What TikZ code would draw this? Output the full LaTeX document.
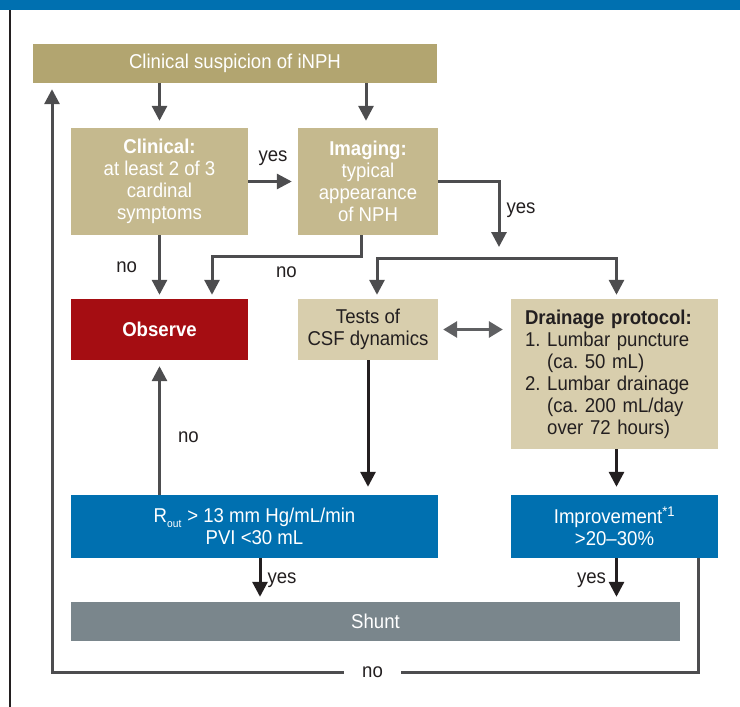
\documentclass[tikz,border=0pt]{standalone}
\usepackage{fontspec}
\setmainfont{Liberation Sans}[FakeStretch=0.93]
\usetikzlibrary{calc}
\usetikzlibrary{arrows.meta}

\definecolor{hdrblue}{RGB}{0,112,176}
\definecolor{khakidark}{RGB}{178,165,112}
\definecolor{khaki}{RGB}{197,185,142}
\definecolor{khakilight}{RGB}{216,206,173}
\definecolor{obsred}{RGB}{165,13,18}
\definecolor{shuntgray}{RGB}{122,134,140}
\definecolor{linegray}{RGB}{77,77,79}
\definecolor{softgray}{RGB}{95,96,98}
\definecolor{inkdark}{RGB}{35,31,32}

\begin{document}
\begin{tikzpicture}[x=1pt,y=-1pt,
  box/.style={rectangle,inner sep=0pt,align=center,text=white,font=\fontsize{20}{22}\selectfont},
  arr/.style={line width=3pt,draw=linegray,-{Triangle[width=15pt,length=15pt]}},
  arrdark/.style={arr,draw=inkdark},
  lbl/.style={text=inkdark,inner sep=1pt,font=\fontsize{20}{22}\selectfont}]
  \useasboundingbox (0,0) rectangle (740,707);
  \fill [hdrblue] (0,0) rectangle (740,10);
  \draw [inkdark, line width=2pt] (10,10) -- (10,707);

  \node [box, fill=khakidark, minimum width=404pt, minimum height=39pt] (susp) at (235,63.5) {Clinical suspicion of iNPH};
  \node [box, fill=khaki, minimum width=177pt, minimum height=107pt] (clin) at (159.5,181.5) {\textbf{Clinical:}\\at least 2 of 3\\cardinal\\symptoms};
  \node [box, fill=khaki, minimum width=140pt, minimum height=107pt] (imag) at (368,181.5) {\textbf{Imaging:}\\typical\\appearance\\of NPH};
  \node [box, fill=obsred, minimum width=177pt, minimum height=61pt] (obs) at (159.5,329.5) {\textbf{Observe}};
  \node [box, fill=khakilight, text=inkdark, minimum width=140pt, minimum height=61pt] (tests) at (368,329.5) {Tests of\\CSF dynamics};
  \node [box, fill=khakilight, text=inkdark, align=left, inner xsep=14pt, text width=179pt, minimum height=150pt] (drain) at (614.5,374)
    {\textbf{Drainage protocol:}\\1.~Lumbar puncture\\\phantom{1.~}(ca.~50~mL)\\2.~Lumbar drainage\\\phantom{2.~}(ca.~200~mL/day\\\phantom{2.~}over 72 hours)};
  \node [box, fill=hdrblue, minimum width=367pt, minimum height=63pt] (rout) at (254.5,526.5)
    {R\raisebox{-5pt}{\fontsize{11}{11}\selectfont out}\hspace{6pt}> 13 mm Hg/mL/min\\PVI <30 mL};
  \node [box, fill=hdrblue, minimum width=207pt, minimum height=63pt] (impr) at (614.5,526.5) {Improvement\textsuperscript{*1}\\>20--30\%};
  \node [box, fill=shuntgray, minimum width=609pt, minimum height=39pt] (shunt) at (375.5,621.5) {Shunt};

  \coordinate (yesend) at (499,247);
  \coordinate (fork) at (497,258);
  \coordinate (loopbot) at (52,672);

  \draw [arr, shorten >=7pt] (clin.north |- susp.south) -- (clin.north);
  \draw [arr, shorten >=7pt] ([xshift=-2pt]imag.north |- susp.south) -- ([xshift=-2pt]imag.north);
  \draw [arr, shorten >=6pt] (clin.east) -- (imag.west) node [lbl, midway, above=13pt] {yes};
  \draw [arr] (imag.east) -| (yesend) node [lbl, pos=0.72, right=5pt] {yes};
  \draw [arr, shorten >=4pt] (clin.south) -- (obs.north) node [lbl, midway, left=20pt] {no};
  \draw [arr, shorten >=4pt] ([xshift=-7pt]imag.south) -- ++(0,21) -| ([xshift=52.5pt]obs.north) node [lbl, pos=0.25, below=8pt] {no};
  \draw [arr, shorten >=4pt] (fork) -| ([xshift=9pt]tests.north);
  \draw [arr, shorten >=4pt] (fork) -| ([xshift=2pt]drain.north);
  \draw [arr, draw=softgray, {Triangle[width=16pt,length=14pt]}-{Triangle[width=16pt,length=14pt]}, shorten <=5pt, shorten >=8pt] (tests.east) -- (drain.west |- tests.east);
  \draw [arrdark, shorten >=8pt] (tests.south) -- (tests.south |- rout.north);
  \draw [arrdark, shorten >=8pt] ([xshift=2pt]drain.south) -- ([xshift=2pt]impr.north);
  \draw [arr, shorten >=6pt] (rout.north -| obs.south) -- (obs.south) node [lbl, pos=0.43, right=16pt] {no};
  \draw [arrdark, shorten >=5pt] ([xshift=5.5pt]rout.south) -- ([xshift=5.5pt]rout.south |- shunt.north) node [lbl, midway, right=5pt] {yes};
  \draw [arrdark, shorten >=5pt] ([xshift=2pt]impr.south) -- ([xshift=2pt]impr.south |- shunt.north) node [lbl, midway, left=8pt] {yes};
  \draw [arr, shorten >=6pt] ([xshift=-20pt]impr.south east) |- (loopbot) node [lbl, fill=white, inner xsep=18pt, inner ysep=2pt, pos=0.752] {no} -- (loopbot |- susp.south);
\end{tikzpicture}
\end{document}
